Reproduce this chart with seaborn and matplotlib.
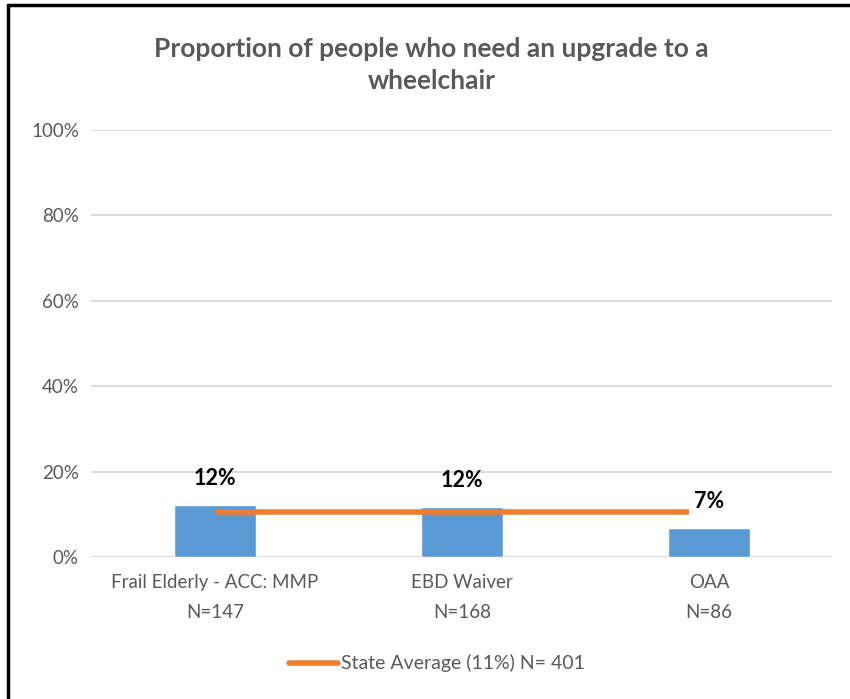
import matplotlib
matplotlib.use("Agg")
import matplotlib.pyplot as plt
import pandas as pd
import seaborn as sns
from matplotlib.lines import Line2D

# chart data
programs = ["Frail Elderly - ACC: MMP\nN=147", "EBD Waiver\nN=168", "OAA\nN=86"]
proportions = [12.1, 11.8, 6.9]
value_labels = ["12%", "12%", "7%"]
state_average = 10.5
state_average_span = [0, 1.92]  # category positions where the average line starts/ends
legend_label = "State Average (11%) N= 401"
title = "Proportion of people who need an upgrade to a\nwheelchair"
y_ticks = [0, 20, 40, 60, 80, 100]

sns.set_style("white")
plt.rcParams["font.family"] = ["Lato", "DejaVu Sans"]

grey = "#595959"
bar_blue = "#5B9BD5"
avg_orange = "#ED7D31"

df = pd.DataFrame({"program": programs, "proportion": proportions})

fig = plt.figure(figsize=(8.5, 6.99), dpi=100)
ax = fig.add_axes([0.1076, 0.2031, 0.8718, 0.6109])

sns.barplot(data=df, x="program", y="proportion", color=bar_blue, width=0.33,
            saturation=1, ax=ax, zorder=3)

ax.plot(state_average_span, [state_average, state_average], color=avg_orange,
        linewidth=4, solid_capstyle="butt", zorder=4)

for i, (v, lab) in enumerate(zip(proportions, value_labels)):
    ax.annotate(lab, (i, v), xytext=(0, 19), textcoords="offset points",
                ha="center", va="center", fontsize=15.5, fontweight="bold",
                color="black", zorder=5)

ax.set_ylim(0, 100)
ax.set_xlim(-0.5, 2.5)
ax.set_yticks(y_ticks)
ax.set_yticklabels([f"{t}%" for t in y_ticks])
ax.yaxis.grid(True, color="#D9D9D9", linewidth=1.3, zorder=0)
ax.set_axisbelow(True)
ax.set_xlabel("")
ax.set_ylabel("")
for s in ax.spines.values():
    s.set_visible(False)
ax.tick_params(axis="both", length=0, colors=grey, labelsize=13.5)
ax.tick_params(axis="y", pad=9)
ax.tick_params(axis="x", pad=12)
for t in ax.get_xticklabels():
    t.set_linespacing(1.95)

fig.text(0.508, 0.907, title, ha="center", va="center", fontsize=19,
         fontweight="bold", color=grey, linespacing=1.4)

handle = Line2D([], [], color=avg_orange, linewidth=4, solid_capstyle="round")
fig.legend([handle], [legend_label], loc="center", bbox_to_anchor=(0.514, 0.051),
           frameon=False, fontsize=14, labelcolor=grey, handlelength=2.55,
           handletextpad=0.15)

# outer frame (top and left edges visible in the screenshot)
fig.add_artist(Line2D([8 / 850, 1], [1 - 5 / 699, 1 - 5 / 699], color="black",
                      linewidth=2.5, transform=fig.transFigure))
fig.add_artist(Line2D([8 / 850, 8 / 850], [0, 1 - 5 / 699], color="black",
                      linewidth=2.5, transform=fig.transFigure))

fig.savefig("out.png", dpi=100, facecolor="white")
